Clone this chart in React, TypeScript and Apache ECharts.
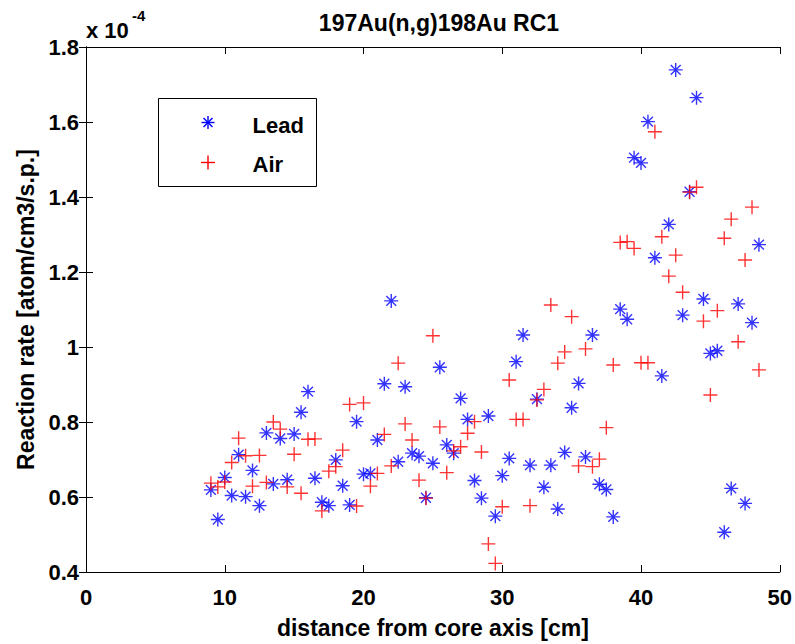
import React, { useEffect, useRef } from "react";
import * as echarts from "echarts";

// distance from core axis [cm]
const distance = [
  9, 9.5, 10, 10.5, 11, 11.5, 12, 12.5, 13, 13.5, 14, 14.5, 15, 15.5, 16, 16.5,
  17, 17.5, 18, 18.5, 19, 19.5, 20, 20.5, 21, 21.5, 22, 22.5, 23, 23.5, 24, 24.5,
  25, 25.5, 26, 26.5, 27, 27.5, 28, 28.5, 29, 29.5, 30, 30.5, 31, 31.5, 32, 32.5,
  33, 33.5, 34, 34.5, 35, 35.5, 36, 36.5, 37, 37.5, 38, 38.5, 39, 39.5, 40, 40.5,
  41, 41.5, 42, 42.5, 43, 43.5, 44, 44.5, 45, 45.5, 46, 46.5, 47, 47.5, 48, 48.5,
];

// reaction rate, in units of 1e-4 atom/cm3/s.p.
const leadRate = [
  0.619, 0.540, 0.652, 0.604, 0.713, 0.601, 0.671, 0.577, 0.771, 0.635, 0.756, 0.646, 0.768, 0.826, 0.881, 0.650,
  0.586, 0.577, 0.699, 0.630, 0.579, 0.801, 0.661, 0.663, 0.752, 0.902, 1.123, 0.694, 0.894, 0.717, 0.709, 0.598,
  0.690, 0.946, 0.739, 0.717, 0.863, 0.807, 0.644, 0.597, 0.816, 0.549, 0.657, 0.703, 0.961, 1.032, 0.685, 0.861,
  0.626, 0.685, 0.568, 0.719, 0.838, 0.903, 0.707, 1.032, 0.634, 0.620, 0.547, 1.101, 1.074, 1.505, 1.491, 1.601,
  1.238, 0.923, 1.327, 1.739, 1.085, 1.414, 1.665, 1.128, 0.983, 0.990, 0.506, 0.623, 1.115, 0.583, 1.065, 1.273,
];

const airRate = [
  0.637, 0.627, 0.640, 0.692, 0.757, 0.710, 0.629, 0.711, 0.639, 0.800, 0.781, 0.627, 0.714, 0.610, 0.754, 0.755,
  0.563, 0.669, 0.681, 0.725, 0.847, 0.576, 0.851, 0.629, 0.663, 0.767, 0.683, 0.957, 0.795, 0.752, 0.645, 0.597,
  1.030, 0.787, 0.665, 0.723, 0.734, 0.770, 0.801, 0.720, 0.475, 0.423, 0.574, 0.912, 0.807, 0.807, 0.577, 0.859,
  0.887, 1.112, 0.957, 0.987, 1.081, 0.683, 0.995, 0.681, 0.701, 0.785, 0.952, 1.279, 1.281, 1.263, 0.958, 0.958,
  1.574, 1.294, 1.189, 1.245, 1.146, 1.413, 1.426, 1.069, 0.872, 1.097, 1.290, 1.341, 1.014, 1.232, 1.373, 0.939,
];

const seriesNames = ["Lead", "Air"];
const xTickLabels = ["0", "10", "20", "30", "40", "50"];
const yTickLabels = ["0.4", "0.6", "0.8", "1", "1.2", "1.4", "1.6", "1.8"];

const FONT = "'Liberation Sans', Arial, Helvetica, sans-serif";
const STAR = "path://M6,0L6,12M0,6L12,6M1.76,1.76L10.24,10.24M1.76,10.24L10.24,1.76";
const PLUS = "path://M6,0L6,12M0,6L12,6";

export default function App() {
  const ref = useRef<HTMLDivElement>(null);

  useEffect(() => {
    if (!ref.current) return;
    const chart = echarts.init(ref.current, undefined, { renderer: "svg" });

    const axisLine = { show: true, lineStyle: { color: "#000", width: 1 } };
    const axisTick = { show: true, inside: true, length: 7, lineStyle: { color: "#000", width: 1 } };
    const labelStyle = { color: "#000", fontSize: 22, fontWeight: "bold" as const, fontFamily: FONT };

    const yLabel = (v: number) => {
      const i = Math.round((v - 0.4) / 0.2);
      return yTickLabels[i] ?? "";
    };
    const xLabel = (v: number) => {
      const i = Math.round(v / 10);
      return xTickLabels[i] ?? "";
    };

    const legendCx = 207.5 - 158;
    const starR = 6.5;
    const d = 4.5;
    const blue = { stroke: "#0000ff", lineWidth: 1.4 };
    const red = { stroke: "#ff0000", lineWidth: 1.4 };

    chart.setOption({
      animation: false,
      backgroundColor: "#fff",
      title: {
        text: "197Au(n,g)198Au RC1",
        left: 434,
        top: 6,
        textAlign: "center",
        textStyle: { color: "#000", fontSize: 23, fontWeight: "bold", fontFamily: FONT },
      },
      grid: { left: 86, top: 47, right: 15, bottom: 72, containLabel: false },
      xAxis: [
        {
          type: "value",
          min: 0,
          max: 50,
          interval: 10,
          position: "bottom",
          axisLine,
          axisTick,
          splitLine: { show: false },
          axisLabel: { ...labelStyle, margin: 14, formatter: xLabel },
          name: "distance from core axis [cm]",
          nameLocation: "middle",
          nameGap: 44,
          nameTextStyle: { color: "#000", fontSize: 23, fontWeight: "bold", fontFamily: FONT },
        },
        {
          type: "value",
          min: 0,
          max: 50,
          interval: 10,
          position: "top",
          axisLine,
          axisTick,
          splitLine: { show: false },
          axisLabel: { show: false },
        },
      ],
      yAxis: [
        {
          type: "value",
          min: 0.4,
          max: 1.8,
          interval: 0.2,
          position: "left",
          axisLine,
          axisTick,
          splitLine: { show: false },
          axisLabel: { ...labelStyle, margin: 7, formatter: yLabel },
          name: "Reaction rate [atom/cm3/s.p.]",
          nameLocation: "middle",
          nameGap: 49,
          nameRotate: 90,
          nameTextStyle: { color: "#000", fontSize: 23, fontWeight: "bold", fontFamily: FONT },
        },
        {
          type: "value",
          min: 0.4,
          max: 1.8,
          interval: 0.2,
          position: "right",
          axisLine,
          axisTick,
          splitLine: { show: false },
          axisLabel: { show: false },
        },
      ],
      series: [
        {
          name: seriesNames[0],
          type: "scatter",
          xAxisIndex: 0,
          yAxisIndex: 0,
          symbol: STAR,
          symbolSize: 14,
          itemStyle: { color: "rgba(0,0,0,0)", borderColor: "#0000ff", borderWidth: 1.4 },
          data: distance.map((x, i) => [x, leadRate[i]]),
        },
        {
          name: seriesNames[1],
          type: "scatter",
          xAxisIndex: 0,
          yAxisIndex: 0,
          symbol: PLUS,
          symbolSize: 14,
          itemStyle: { color: "rgba(0,0,0,0)", borderColor: "#ff0000", borderWidth: 1.4 },
          data: distance.map((x, i) => [x, airRate[i]]),
        },
      ],
      graphic: [
        {
          type: "text",
          left: 86,
          top: 19,
          style: { text: "x 10", fill: "#000", font: `bold 22px ${FONT}` },
        },
        {
          type: "text",
          left: 132,
          top: 8,
          style: { text: "-4", fill: "#000", font: `bold 15px ${FONT}` },
        },
        {
          type: "group",
          left: 158,
          top: 98,
          children: [
            {
              type: "rect",
              shape: { x: 0, y: 0, width: 158, height: 88 },
              style: { fill: "#fff", stroke: "#000", lineWidth: 1 },
            },
            // star marker
            { type: "line", shape: { x1: legendCx, y1: 24 - starR, x2: legendCx, y2: 24 + starR }, style: blue },
            { type: "line", shape: { x1: legendCx - starR, y1: 24, x2: legendCx + starR, y2: 24 }, style: blue },
            { type: "line", shape: { x1: legendCx - d, y1: 24 - d, x2: legendCx + d, y2: 24 + d }, style: blue },
            { type: "line", shape: { x1: legendCx - d, y1: 24 + d, x2: legendCx + d, y2: 24 - d }, style: blue },
            {
              type: "text",
              x: 94,
              y: 27,
              style: { text: seriesNames[0], fill: "#000", font: `bold 22px ${FONT}`, verticalAlign: "middle" },
            },
            // plus marker
            { type: "line", shape: { x1: legendCx, y1: 64 - 7, x2: legendCx, y2: 64 + 7 }, style: red },
            { type: "line", shape: { x1: legendCx - 7, y1: 64, x2: legendCx + 7, y2: 64 }, style: red },
            {
              type: "text",
              x: 94,
              y: 66,
              style: { text: seriesNames[1], fill: "#000", font: `bold 22px ${FONT}`, verticalAlign: "middle" },
            },
          ],
        },
      ],
    });

    return () => chart.dispose();
  }, []);

  return (
    <div
      ref={ref}
      style={{ position: "fixed", left: 0, top: 0, width: 795, height: 644, background: "#fff" }}
    />
  );
}
